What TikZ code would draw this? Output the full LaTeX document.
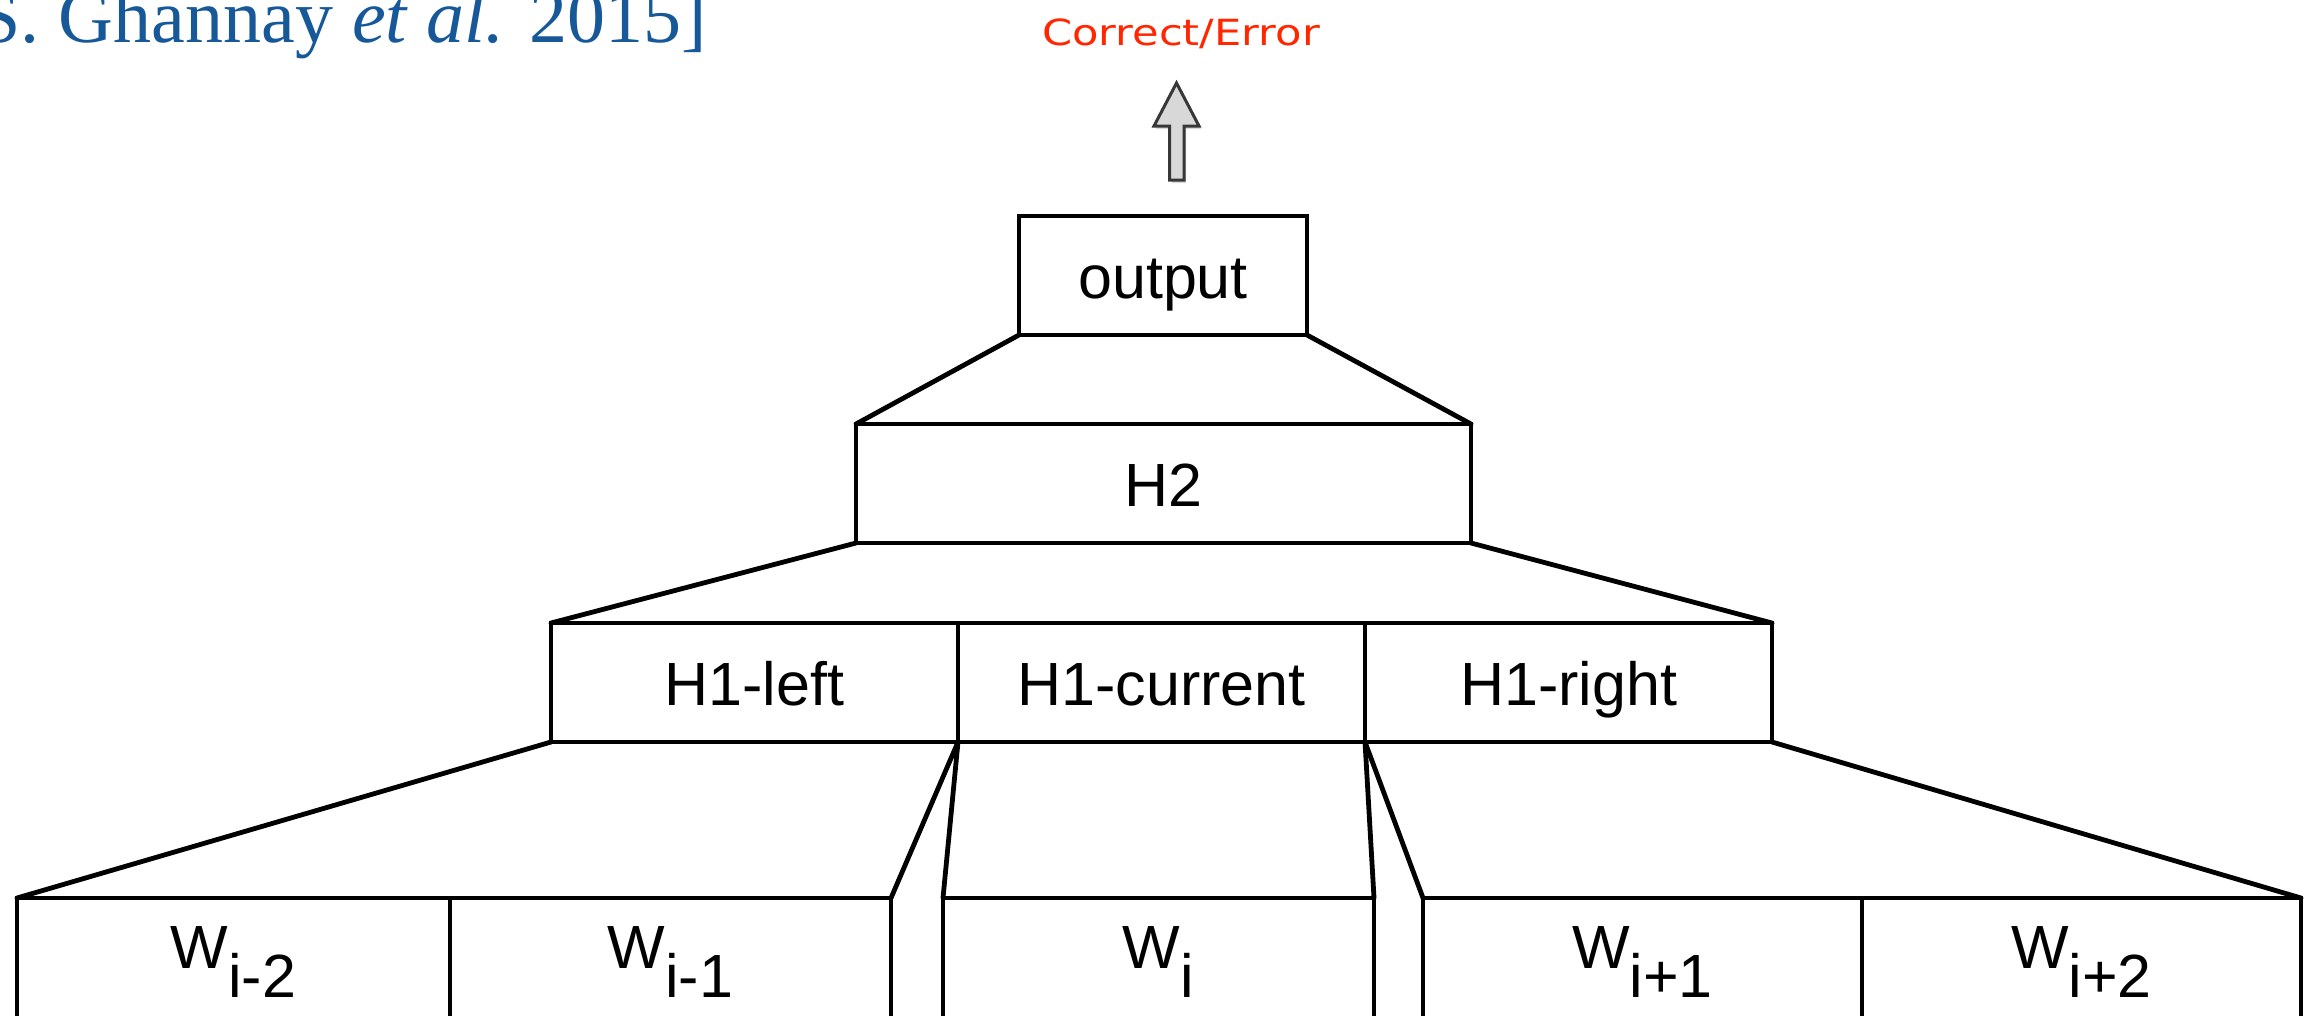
\documentclass[tikz,border=0pt]{standalone}
\usepackage{fontspec}
\setmainfont{Liberation Sans}
\newfontfamily\titlefont{Liberation Serif}
\newfontfamily\handfont{DejaVu Sans}
\definecolor{titleblue}{RGB}{22,88,152}
\definecolor{errred}{RGB}{255,38,0}
\definecolor{arrowgray}{RGB}{216,216,216}
\definecolor{arrowedge}{RGB}{55,55,55}
\begin{document}
\begin{tikzpicture}[x=1pt,y=-1pt,
  box/.style={draw=black, line width=4.8pt, inner sep=0pt, outer sep=0pt,
    minimum height=119pt, text height=45pt, text depth=0pt,
    font=\fontsize{61}{72}\selectfont},
  wbox/.style={draw=black, line width=4.8pt, inner sep=0pt, outer sep=0pt,
    minimum height=140pt, anchor=north west},
  wlabel/.style={font=\fontsize{61}{72}\selectfont, inner sep=0pt, anchor=base},
  link/.style={line width=4.8pt, line cap=round},
]
\useasboundingbox (0,0) rectangle (2306,1015);
\clip (0,0) rectangle (2306,1015);

% title (cut at the left edge, as in the reference)
\node[font=\titlefont\fontsize{76}{90}\selectfont, text=titleblue,
      anchor=base east, inner sep=0pt] (title) at (707,42)
  {[S. Ghannay \textit{et al.} 2015]};

% correct / error label and block arrow
\node[font=\handfont\fontsize{36}{40}\selectfont, text=errred,
      anchor=base, inner sep=0pt] (ce) at (1181,45)
  {\scalebox{1.2}[1]{Correct/Error}};
\fill[black, opacity=0.15] (1171.5,183) -- (1171.5,129) -- (1156,129) -- (1178.5,86)
  -- (1201,129) -- (1186,129) -- (1186,183) -- cycle;
\draw[line width=3pt, draw=arrowedge, fill=arrowgray, line join=miter]
  (1169.5,180) -- (1169.5,126) -- (1154,126) -- (1176.5,83)
  -- (1199,126) -- (1184,126) -- (1184,180) -- cycle;

% layers
\node[box, minimum width=288pt] (out) at (1163,275.5) {output};
\node[box, minimum width=615pt] (h2) at (1163.5,483.5) {H2};
\node[box, minimum width=407pt] (h1l) at (754.5,682.5) {H1-left};
\node[box, minimum width=407pt] (h1c) at (1161.5,682.5) {H1-current};
\node[box, minimum width=407pt] (h1r) at (1568.5,682.5) {H1-right};

\node[wbox, minimum width=433pt] (w1) at (17,898) {};
\node[wbox, minimum width=441pt] (w2) at (450,898) {};
\node[wbox, minimum width=431pt] (w3) at (943,898) {};
\node[wbox, minimum width=439pt] (w4) at (1423,898) {};
\node[wbox, minimum width=439pt] (w5) at (1862,898) {};

\node[wlabel] (l1) at (233.5,968) {W\raisebox{-29pt}{i-2}};
\node[wlabel] (l2) at (670.5,968) {W\raisebox{-29pt}{i-1}};
\node[wlabel] (l3) at (1158.5,968) {W\raisebox{-29pt}{i}};
\node[wlabel] (l4) at (1642.5,968) {W\raisebox{-29pt}{i+1}};
\node[wlabel] (l5) at (2081.5,968) {W\raisebox{-29pt}{i+2}};

% connectors
\draw[link] (out.south west) -- (h2.north west);
\draw[link] (out.south east) -- (h2.north east);
\draw[link] (h2.south west) -- (h1l.north west);
\draw[link] (h2.south east) -- (h1r.north east);
\draw[link] (h1l.south west) -- (w1.north west);
\draw[link] (h1l.south east) -- (w2.north east);
\draw[link] (h1c.south west) -- (w3.north west);
\draw[link] (h1c.south east) -- (w3.north east);
\draw[link] (h1r.south west) -- (w4.north west);
\draw[link] (h1r.south east) -- (w5.north east);
\end{tikzpicture}
\end{document}
